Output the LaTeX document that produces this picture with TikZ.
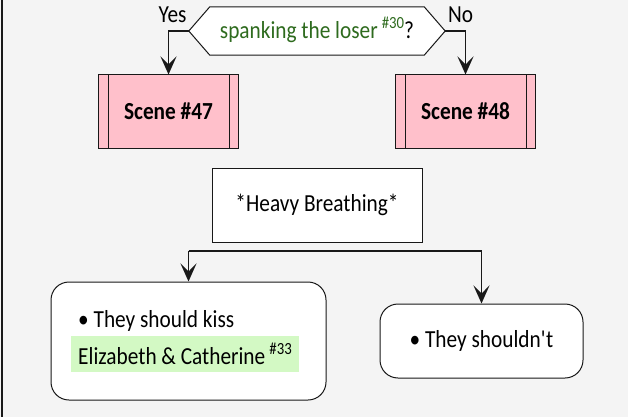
\documentclass[tikz,border=0pt]{standalone}
\usepackage{fontspec}
\setmainfont{Carlito}[FakeStretch=0.87]
\usetikzlibrary{arrows.meta}

\definecolor{bgray}{HTML}{F4F4F4}
\definecolor{edge}{HTML}{181818}
\definecolor{scenepink}{HTML}{FFC0CB}
\definecolor{hlgreen}{HTML}{D3F9C4}
\definecolor{qgreen}{HTML}{2E6B1E}

\newcommand{\refmark}[1]{\,\raisebox{0.42em}{\fontsize{17}{17}\selectfont\##1}}

\begin{document}
\begin{tikzpicture}[
  x=1pt, y=-1pt,
  font=\fontsize{24.5}{28}\selectfont,
  >={Stealth[length=18pt, width=16pt, inset=8pt]},
  box/.style={draw=edge, line width=1pt, fill=white, inner sep=0pt},
  scenebox/.style={box, fill=scenepink, minimum width=140pt, minimum height=73pt, font=\fontsize{24.5}{28}\selectfont\bfseries},
  choice/.style={box, rounded corners=18pt},
  flow/.style={->, line width=1.5pt, draw=black!90},
]
% Coordinate system: pixels of the reference, y pointing down

% --- Background ---
\fill[bgray] (0,0) rectangle (628,417);
\useasboundingbox (0,0) rectangle (628,417);
\draw[line width=2.4pt, black!90] (2,0) -- (2,417);

% --- Question ---
\node[inner sep=0pt, minimum width=256pt, minimum height=48pt] (q) at (317,31) {};
\draw[edge, line width=1pt, fill=white]
  (q.west) -- ([xshift=21pt]q.north west) -- ([xshift=-21pt]q.north east)
  -- (q.east) -- ([xshift=-21pt]q.south east) -- ([xshift=21pt]q.south west) -- cycle;
\node[inner sep=0pt, yshift=1pt] at (q) {{\color{qgreen}spanking the loser\refmark{30}}?};

% --- Scenes ---
\node[scenebox] (s47) at (168.5,111.5) {Scene \#47};
\node[scenebox] (s48) at (465.5,111.5) {Scene \#48};
\foreach \s in {s47,s48} {
  \draw[edge, line width=1pt] ([xshift=10pt]\s.north west) -- ([xshift=10pt]\s.south west);
  \draw[edge, line width=1pt] ([xshift=-10pt]\s.north east) -- ([xshift=-10pt]\s.south east);
}

% --- Yes / No branches ---
\draw[flow] (q.west) -| node[pos=0.4, above, yshift=4pt] {Yes} (s47.north);
\draw[flow] (q.east) -| node[pos=0.38, above, yshift=4pt] {No} (s48.north);

% --- Heavy breathing ---
\node[box, minimum width=210pt, minimum height=74pt] (hb) at (317,205) {*Heavy Breathing*};

% --- Split bar ---
\coordinate (forkL) at (188.5,251);
\coordinate (forkR) at (481.5,251);
\draw[line width=2.6pt, black!90] (forkL) -- (forkR);

% --- Choices ---
\node[choice, minimum width=275pt, minimum height=118pt, align=left] (kiss) at (188.5,341)
  {\textbullet\ They should kiss\\[4pt]
   \setlength{\fboxsep}{7pt}\hspace*{-7pt}\colorbox{hlgreen}{Elizabeth \& Catherine\refmark{33}}};
\node[choice, minimum width=203pt, minimum height=74pt] (nokiss) at (481.5,341)
  {\textbullet\ They shouldn\textquotesingle t};

\draw[flow] (forkL) -- (kiss.north);
\draw[flow] (forkR) -- (nokiss.north);

\end{tikzpicture}
\end{document}
